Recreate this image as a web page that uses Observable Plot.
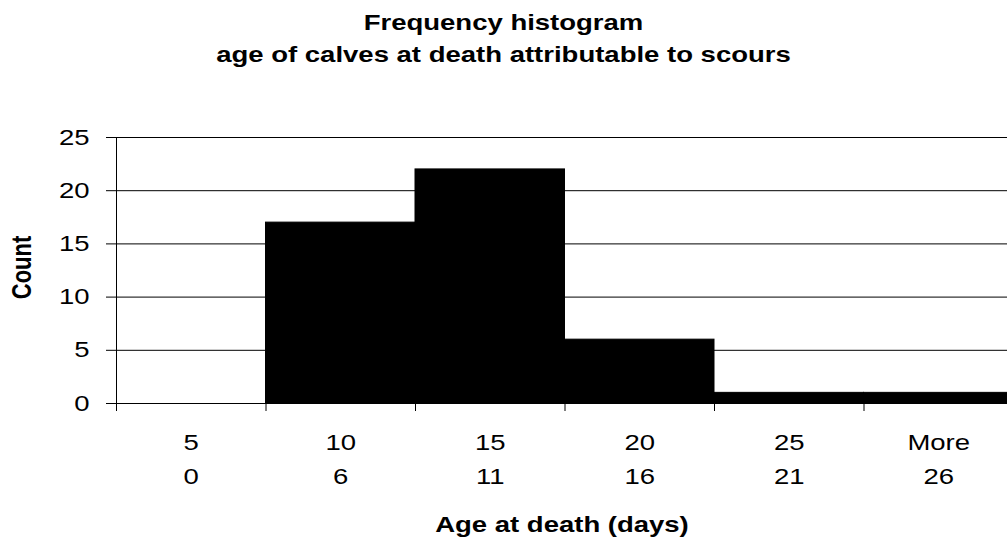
<!DOCTYPE html>
<html><head><meta charset="utf-8">
<script src="https://cdn.jsdelivr.net/npm/d3@7"></script>
<script src="https://cdn.jsdelivr.net/npm/@observablehq/plot@0.6"></script>
<style>
html,body{margin:0;padding:0;background:#fff;overflow:hidden;}
#wrap{position:relative;width:1007px;height:537px;}
#chart{position:absolute;left:0;top:0;}
#title{position:absolute;left:0;top:7px;width:1007px;text-align:center;font:bold 22px "Liberation Sans",Arial,sans-serif;line-height:32px;color:#000;transform:scaleX(1.25);}
</style></head><body>
<div id="wrap"><div id="chart"></div><div id="title">Frequency histogram<br>age of calves at death attributable to scours</div></div>
<script>
// Data
const binUpper = ["5", "10", "15", "20", "25", "More"];
const binLower = ["0", "6", "11", "16", "21", "26"];
const counts = [0, 17, 22, 6, 1, 1];
const yTicks = [0, 5, 10, 15, 20, 25];
const yLabel = "Count";
const xLabel = "Age at death (days)";

const sx = 1.25;
const fs = 22;
const bins = binUpper.map((u, i) => ({i, upper: u, lower: binLower[i], count: counts[i]}));
const edges = d3.range(0, binUpper.length + 1);

const chart = Plot.plot({
  width: 1007, height: 537,
  marginTop: 137, marginBottom: 134, marginLeft: 116, marginRight: 0,
  style: {fontFamily: '"Liberation Sans", Arial, sans-serif', fontSize: fs + "px", color: "#000", background: "#fff"},
  x: {type: "linear", domain: [0, binUpper.length], range: [116, 1013], axis: null},
  y: {domain: [0, 25], axis: null, label: null},
  marks: [
    Plot.ruleY(yTicks.filter(d => d > 0), {stroke: "#000"}),
    Plot.rectY(bins, {x1: "i", x2: d => d.i + 1, y: "count", fill: "#000", stroke: "#000"}),
    Plot.ruleY([0], {stroke: "#000"}),
    Plot.ruleX([0], {stroke: "#000"}),
    Plot.ruleX(edges, {y1: 0, y2: 0, insetBottom: -8, stroke: "#000"}),
    Plot.axisY(yTicks, {tickSize: 10, tickPadding: 17, fontSize: fs, stroke: "#000", label: null}),
    Plot.text(bins, {x: d => d.i + 0.5, text: d => `${d.upper}\n${d.lower}`, frameAnchor: "bottom", lineAnchor: "top", textAnchor: "middle", dy: 22, lineHeight: 1.545, fontSize: fs}),
    Plot.text([yLabel], {frameAnchor: "left", textAnchor: "middle", lineAnchor: "middle", rotate: -90, dx: -94, dy: -3, fontWeight: "bold", fontSize: fs}),
    Plot.text([xLabel], {frameAnchor: "bottom", textAnchor: "middle", lineAnchor: "bottom", dy: 128, fontWeight: "bold", fontSize: fs})
  ]
});

chart.querySelectorAll("text").forEach(t => {
  const tr = t.getAttribute("transform");
  if (tr && /^translate\([^)]*\)/.test(tr)) {
    t.setAttribute("transform", tr.replace(/^(translate\([^)]*\))/, `$1 scale(${sx},1)`));
  } else if (!tr) {
    const x = +t.getAttribute("x") || 0, y = +t.getAttribute("y") || 0;
    t.setAttribute("transform", `translate(${x},${y}) scale(${sx},1) translate(${-x},${-y})`);
  }
});
document.getElementById("chart").appendChild(chart);
</script>
</body></html>
